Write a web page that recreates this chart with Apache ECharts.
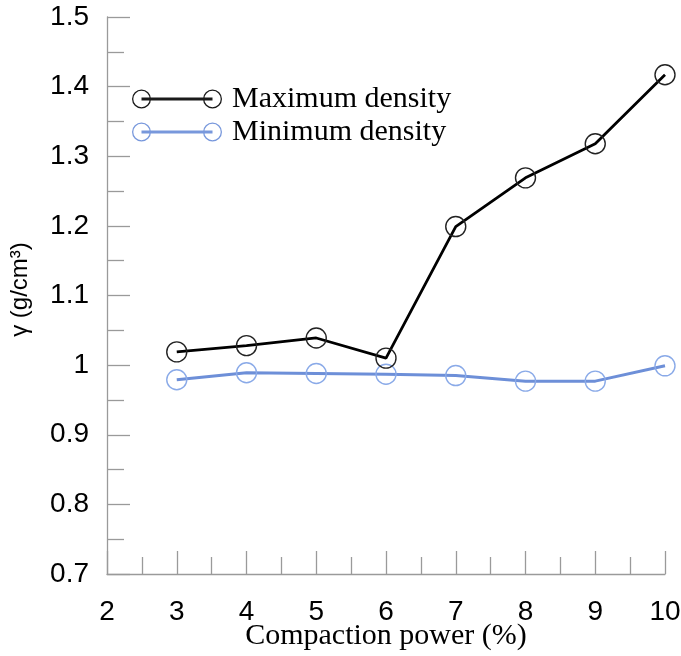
<!DOCTYPE html>
<html>
<head>
<meta charset="utf-8">
<script src="https://cdn.jsdelivr.net/npm/echarts@6/dist/echarts.min.js"></script>
<style>html,body{margin:0;padding:0;background:#fff;}#c{width:681px;height:656px;}</style>
</head>
<body>
<div id="c"></div>
<script>
var xValues = [3, 4, 5, 6, 7, 8, 9, 10];
var maxDensity = [1.019, 1.028, 1.039, 1.010, 1.199, 1.269, 1.318, 1.417];
var minDensity = [0.979, 0.989, 0.988, 0.987, 0.985, 0.977, 0.977, 0.999];
var seriesNames = ['Maximum density', 'Minimum density'];
var xTitle = 'Compaction power (%)';
var yTitle = 'γ (g/cm³)';

function pairs(xs, ys) { return xs.map(function (x, i) { return [x, ys[i]]; }); }

var iconPath = 'path://' +
  'M0,9.5 A9.5,9.5 0 1,1 19,9.5 A9.5,9.5 0 1,1 0,9.5 Z ' +
  'M1.3,9.5 A8.2,8.2 0 1,0 17.7,9.5 A8.2,8.2 0 1,0 1.3,9.5 Z ' +
  'M71,9.5 A9.5,9.5 0 1,1 90,9.5 A9.5,9.5 0 1,1 71,9.5 Z ' +
  'M72.3,9.5 A8.2,8.2 0 1,0 88.7,9.5 A8.2,8.2 0 1,0 72.3,9.5 Z ' +
  'M9.5,8.1 L80.5,8.1 L80.5,10.9 L9.5,10.9 Z';

var axisGrey = '#9a9a9a';
var chart = echarts.init(document.getElementById('c'));
chart.setOption({
  animation: false,
  backgroundColor: '#fff',
  grid: { left: 107, right: 16, top: 17, bottom: 82, containLabel: false, outerBoundsMode: 'none' },
  legend: {
    orient: 'vertical',
    left: 127, top: 79,
    itemWidth: 90, itemHeight: 19, itemGap: 3,
    textStyle: { fontFamily: 'Liberation Serif', fontSize: 30, color: '#000', lineHeight: 30, padding: [0, 0, 0, 5] },
    data: [
      { name: seriesNames[0], icon: iconPath, itemStyle: { color: '#1a1a1a', borderWidth: 0 } },
      { name: seriesNames[1], icon: iconPath, itemStyle: { color: '#7898dc', borderWidth: 0 } }
    ]
  },
  xAxis: {
    type: 'value', min: 2, max: 10, interval: 1,
    name: xTitle, nameLocation: 'middle', nameGap: 47, nameMoveOverlap: false,
    nameTextStyle: { fontFamily: 'Liberation Serif', fontSize: 30, color: '#000' },
    axisLine: { show: true, lineStyle: { color: axisGrey, width: 1.3 } },
    axisTick: { show: true, inside: true, length: 23, lineStyle: { color: axisGrey, width: 1.3 } },
    minorTick: { show: true, splitNumber: 2, length: 17, lineStyle: { color: axisGrey, width: 1.3 } },
    axisLabel: { fontFamily: 'Liberation Sans', fontSize: 28, color: '#000', margin: 24 },
    splitLine: { show: false }
  },
  yAxis: {
    type: 'value', min: 0.7, max: 1.5, interval: 0.1,
    name: yTitle, nameLocation: 'middle', nameGap: 75, nameMoveOverlap: false,
    nameTextStyle: { fontFamily: 'Liberation Sans', fontSize: 24, color: '#000', padding: [0, 0, 0, 12] },
    axisLine: { show: true, lineStyle: { color: axisGrey, width: 1.3 } },
    axisTick: { show: true, inside: true, length: 23, lineStyle: { color: axisGrey, width: 1.3 } },
    minorTick: { show: true, splitNumber: 2, length: 17, lineStyle: { color: axisGrey, width: 1.3 } },
    axisLabel: { fontFamily: 'Liberation Sans', fontSize: 28, color: '#000', margin: 18,
      formatter: function (v) { return String(Math.round(v * 10) / 10); } },
    splitLine: { show: false }
  },
  series: [
    {
      name: seriesNames[0], type: 'line', data: pairs(xValues, maxDensity),
      symbol: 'circle', symbolSize: 20,
      itemStyle: { color: 'rgba(0,0,0,0)', borderColor: '#222', borderWidth: 1.4 },
      lineStyle: { color: '#000', width: 2.8 }, z: 3
    },
    {
      name: seriesNames[1], type: 'line', data: pairs(xValues, minDensity),
      symbol: 'circle', symbolSize: 20,
      itemStyle: { color: 'rgba(0,0,0,0)', borderColor: '#8aaae8', borderWidth: 1.4 },
      lineStyle: { color: '#6d8fd8', width: 3 }, z: 2
    }
  ]
});
</script>
</body>
</html>
